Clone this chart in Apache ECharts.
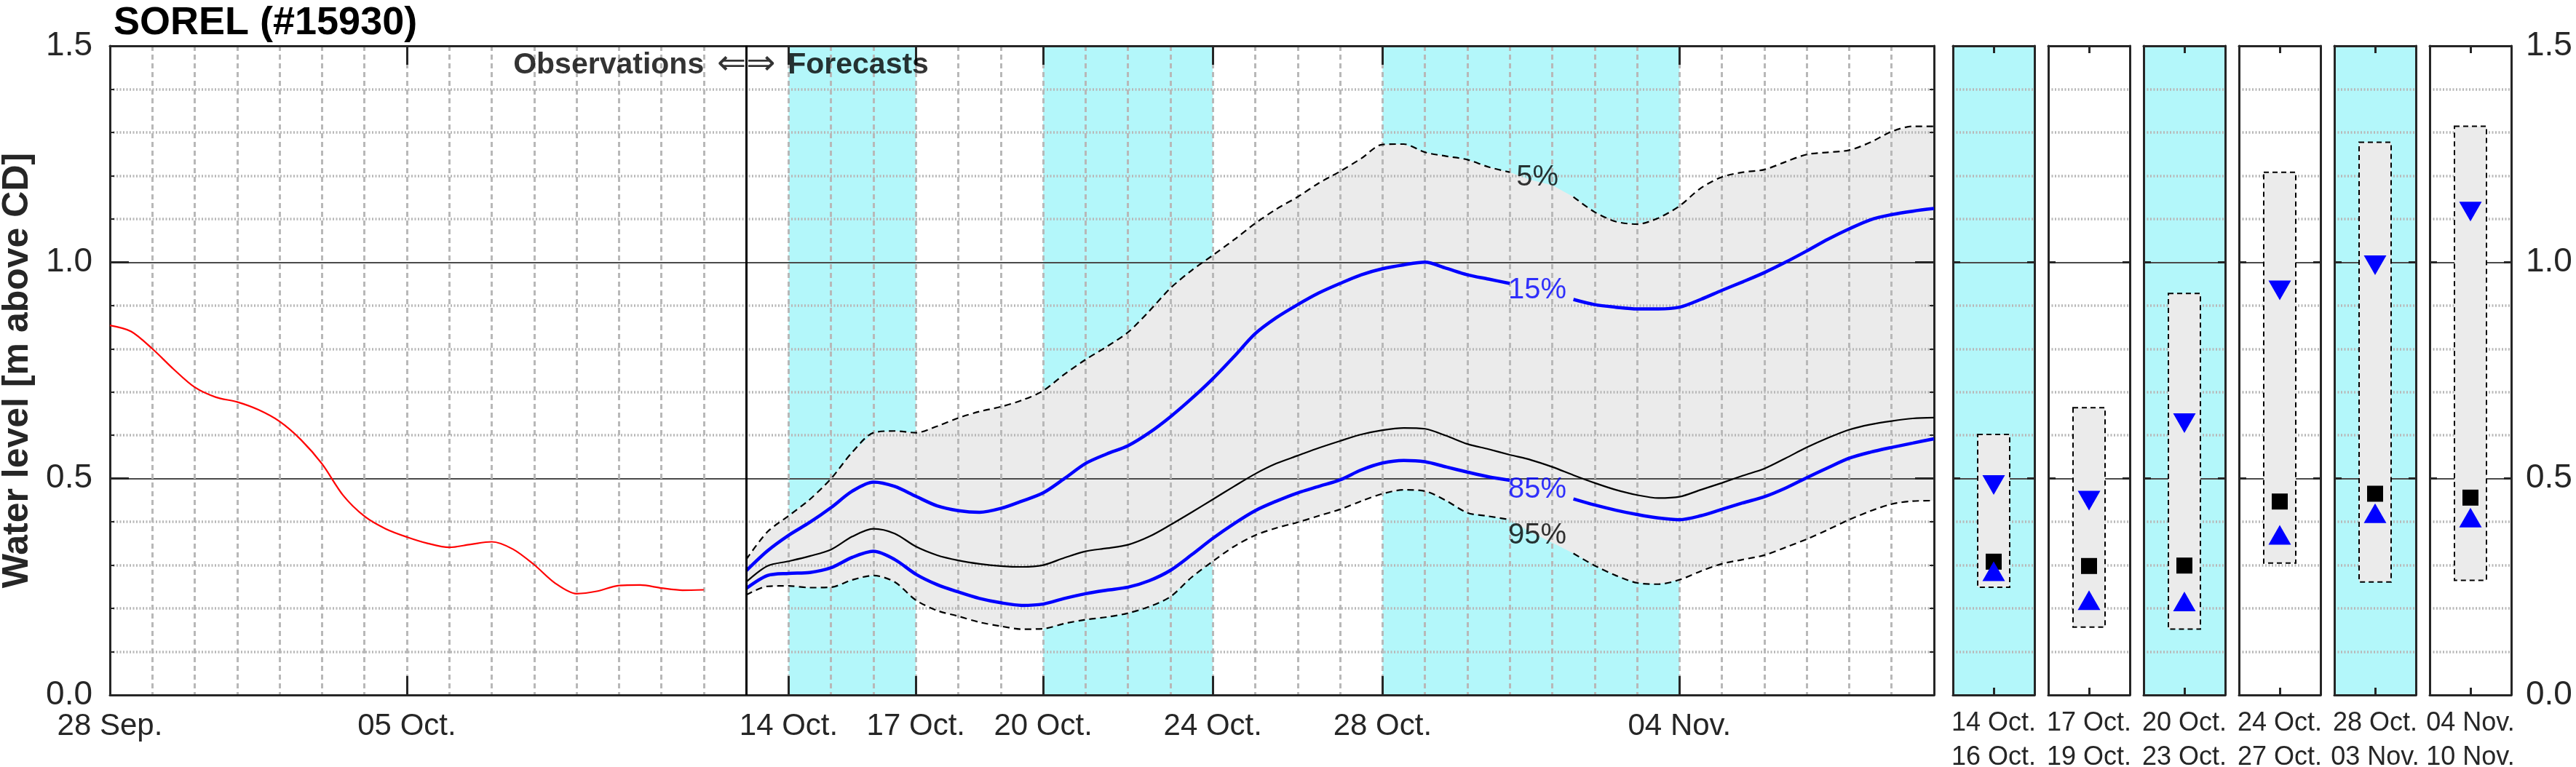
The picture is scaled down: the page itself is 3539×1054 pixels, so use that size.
<!DOCTYPE html>
<html><head><meta charset="utf-8">
<script src="https://cdn.jsdelivr.net/npm/echarts@6/dist/echarts.min.js"></script>
<style>html,body{margin:0;padding:0;background:#fff}#c{width:3539px;height:1054px}</style>
</head><body><div id="c"></div>
<script>
// ---------------- DATA ----------------
// x values are days after 28 Sep. (00:00)
const xTickDays   = [0, 7, 16, 19, 22, 26, 30, 37];
const xTickLabels = ['28 Sep.', '05 Oct.', '14 Oct.', '17 Oct.', '20 Oct.', '24 Oct.', '28 Oct.', '04 Nov.'];
const forecastStartDay = 15;           // 13 Oct.
const shadedRanges = [[16, 19], [22, 26], [30, 37]];

const obsDays  = [0,0.5,1,1.5,2,2.5,3,3.5,4,4.5,5,5.5,6,6.5,7,7.5,8,8.5,9,9.5,10,10.5,11,11.5,12,12.5,13,13.5,14];
const obsLevel = [0.854,0.840,0.800,0.753,0.711,0.688,0.677,0.659,0.632,0.590,0.534,0.461,0.413,0.384,0.365,0.350,0.341,0.348,0.354,0.337,0.301,0.258,0.234,0.240,0.253,0.254,0.247,0.242,0.243];

const fcDays = [15,15.5,16,16.5,17,17.5,18,18.5,19,19.5,20,20.5,21,21.5,22,22.5,23,23.5,24,24.5,25,25.5,26,26.5,27,27.5,28,28.5,29,29.5,30,
                30.5,31,31.5,32,32.5,33,33.5,34,34.5,35,35.5,36,36.5,37,37.5,38,38.5,39,39.5,40,40.5,41,41.5,42,42.5,43];
const p05 = [0.313,0.377,0.414,0.452,0.500,0.561,0.606,0.610,0.606,0.621,0.640,0.655,0.666,0.681,0.703,0.741,0.775,0.805,0.838,0.887,0.940,0.981,1.016,1.052,1.090,1.123,1.151,1.183,1.210,1.240,1.272,
             1.273,1.254,1.245,1.237,1.220,1.208,1.190,1.178,1.151,1.116,1.094,1.088,1.102,1.130,1.171,1.197,1.208,1.214,1.232,1.249,1.254,1.259,1.277,1.302,1.314,1.314];
const p15 = [0.287,0.333,0.369,0.399,0.433,0.471,0.492,0.482,0.459,0.437,0.426,0.422,0.431,0.448,0.467,0.500,0.535,0.557,0.576,0.606,0.643,0.685,0.731,0.782,0.835,0.872,0.902,0.929,0.951,0.971,0.985,
             0.994,1.000,0.986,0.971,0.961,0.951,0.935,0.922,0.914,0.902,0.896,0.892,0.892,0.896,0.914,0.935,0.955,0.976,1.000,1.026,1.053,1.077,1.098,1.110,1.118,1.124];
const p50 = [0.261,0.298,0.309,0.321,0.336,0.366,0.384,0.373,0.343,0.323,0.311,0.303,0.298,0.296,0.300,0.317,0.332,0.339,0.347,0.366,0.393,0.422,0.452,0.482,0.511,0.535,0.553,0.571,0.587,0.602,0.612,
             0.617,0.615,0.599,0.580,0.568,0.555,0.543,0.527,0.508,0.490,0.474,0.462,0.455,0.458,0.474,0.490,0.507,0.523,0.547,0.572,0.594,0.613,0.625,0.633,0.639,0.641];
const p85 = [0.246,0.276,0.281,0.283,0.294,0.318,0.332,0.313,0.279,0.255,0.238,0.223,0.213,0.207,0.210,0.223,0.234,0.242,0.249,0.264,0.288,0.324,0.362,0.396,0.426,0.448,0.467,0.482,0.497,0.520,0.536,
             0.542,0.539,0.527,0.515,0.504,0.496,0.480,0.466,0.453,0.439,0.427,0.417,0.409,0.405,0.414,0.429,0.444,0.458,0.478,0.502,0.525,0.547,0.561,0.572,0.582,0.592];
const p95 = [0.231,0.251,0.252,0.248,0.249,0.266,0.276,0.261,0.219,0.195,0.182,0.168,0.159,0.152,0.153,0.165,0.174,0.180,0.189,0.204,0.227,0.272,0.309,0.343,0.369,0.386,0.399,0.414,0.429,0.448,0.465,
             0.474,0.471,0.449,0.421,0.413,0.405,0.376,0.352,0.327,0.299,0.276,0.259,0.256,0.266,0.286,0.303,0.313,0.323,0.341,0.360,0.382,0.405,0.425,0.441,0.448,0.449];

const pctLabelText  = ['5%', '15%', '85%', '95%'];
const pctLabelDay   = 33.65;
const pctLabelLevel = [1.196, 0.935, 0.474, 0.368];
const labelGapDays  = [33.5, 34];

// right-hand summary panels
const panelLabels = ['14 Oct.\n16 Oct.', '17 Oct.\n19 Oct.', '20 Oct.\n23 Oct.', '24 Oct.\n27 Oct.', '28 Oct.\n03 Nov.', '04 Nov.\n10 Nov.'];
const panelP05 = [0.602, 0.664, 0.928, 1.208, 1.277, 1.314];
const panelP15 = [0.485, 0.449, 0.628, 0.935, 0.993, 1.117];
const panelP50 = [0.308, 0.298, 0.299, 0.447, 0.465, 0.456];
const panelP85 = [0.286, 0.219, 0.216, 0.370, 0.420, 0.410];
const panelP95 = [0.249, 0.157, 0.152, 0.305, 0.261, 0.265];
const panelShaded = [true, false, true, false, true, false];

// ---------------- STYLE / LAYOUT ----------------
const FONT = "'Liberation Sans', Arial, Helvetica, sans-serif";
const CYAN = '#b3f7fa', BAND = '#ebebeb', BLUE = '#0000ff', AXC = '#262626';
const GRIDC = '#b8b8b8';
const plotTop = 63, plotBottom = 99;
const mainLeft = 151, mainRight = 3539 - 2657;
const panelLeft0 = 2683, panelStep = 131, panelWidth = 112;
const SM = 0.3;
const annotLevel = 1.455;

const pairs = (xs, ys, gaps) => xs.map((x, i) => [x, (gaps && gaps.indexOf(x) >= 0) ? '-' : ys[i]]);

const axisLineStyle = {color: AXC, width: 3};
const minorGrid = {show: true, lineStyle: {color: GRIDC, width: 3.5, type: [2, 2.5]}};

const grids = [{left: mainLeft, right: mainRight, top: plotTop, bottom: plotBottom, containLabel: false, outerBoundsMode: 'none'}];
const xAxes = [
  {gridIndex: 0, type: 'value', min: 0, max: 43, interval: 1, position: 'bottom', z: 2,
   axisLine: {show: true, onZero: false, lineStyle: axisLineStyle}, axisTick: {show: false},
   axisLabel: {fontSize: 42, color: AXC, margin: 22, fontFamily: FONT,
     formatter: v => { const r = Math.round(v); const i = xTickDays.indexOf(r); return (i >= 0 && Math.abs(v - r) < 1e-6) ? xTickLabels[i] : ''; }},
   splitLine: {show: true, lineStyle: {color: GRIDC, width: 3, type: [7, 5]}}},
  {gridIndex: 0, type: 'value', min: 0, max: 43, position: 'bottom', z: 2,
   axisLine: {show: false}, axisLabel: {show: false}, splitLine: {show: false},
   axisTick: {show: true, inside: true, length: 26, customValues: xTickDays, lineStyle: axisLineStyle}},
  {gridIndex: 0, type: 'value', min: 0, max: 43, position: 'top', z: 2,
   axisLine: {show: true, onZero: false, lineStyle: axisLineStyle}, axisLabel: {show: false}, splitLine: {show: false},
   axisTick: {show: true, inside: true, length: 26, customValues: xTickDays, lineStyle: axisLineStyle}}
];
const yAxes = [
  {gridIndex: 0, type: 'value', min: 0, max: 1.5, interval: 0.5, position: 'left', z: 2,
   name: 'Water level [m above CD]', nameLocation: 'middle', nameGap: 102, nameRotate: 90,
   nameTextStyle: {fontSize: 50, fontWeight: 'bold', color: AXC, fontFamily: FONT},
   axisLine: {show: true, onZero: false, lineStyle: axisLineStyle},
   axisTick: {show: true, inside: true, length: 26, lineStyle: axisLineStyle},
   minorTick: {show: true, splitNumber: 5, length: 6, lineStyle: {color: AXC, width: 2}},
   minorSplitLine: minorGrid,
   splitLine: {show: true, lineStyle: {color: '#4a4a4a', width: 2}},
   axisLabel: {fontSize: 46, color: AXC, margin: 24, fontFamily: FONT, formatter: v => v.toFixed(1)}},
  {gridIndex: 0, type: 'value', min: 0, max: 1.5, interval: 0.5, position: 'right', z: 2,
   axisLine: {show: true, onZero: false, lineStyle: axisLineStyle},
   axisTick: {show: true, inside: true, length: 26, lineStyle: axisLineStyle},
   minorTick: {show: true, splitNumber: 5, length: 6, lineStyle: {color: AXC, width: 2}},
   splitLine: {show: false}, axisLabel: {show: false}}
];

const series = [
  {type: 'custom', name: 'shade', xAxisIndex: 0, yAxisIndex: 0, z: 0, silent: true, clip: true,
   data: shadedRanges, encode: {x: [0, 1]},
   renderItem: (params, api) => {
     const a = api.coord([api.value(0), 1.5]);
     const b = api.coord([api.value(1), 0]);
     return {type: 'rect', shape: {x: a[0], y: a[1], width: b[0] - a[0], height: b[1] - a[1]}, style: {fill: CYAN}};
   }},
  {type: 'custom', name: 'band 5%-95%', xAxisIndex: 0, yAxisIndex: 0, z: 1, silent: true, clip: true,
   data: [[fcDays[0], fcDays[fcDays.length - 1]]], encode: {x: [0, 1]},
   renderItem: (params, api) => {
     const pts = fcDays.map((d, i) => api.coord([d, p05[i]]));
     for (let i = fcDays.length - 1; i >= 0; i--) pts.push(api.coord([fcDays[i], p95[i]]));
     return {type: 'polygon', shape: {points: pts}, style: {fill: BAND}};
   }},
  {type: 'line', name: '5%', xAxisIndex: 0, yAxisIndex: 0, z: 3, data: pairs(fcDays, p05, labelGapDays),
   smooth: SM, symbol: 'none', lineStyle: {color: '#000', width: 2.2, type: [9, 6]}},
  {type: 'line', name: '95%', xAxisIndex: 0, yAxisIndex: 0, z: 3, data: pairs(fcDays, p95, labelGapDays),
   smooth: SM, symbol: 'none', lineStyle: {color: '#000', width: 2.2, type: [9, 6]}},
  {type: 'line', name: '50%', xAxisIndex: 0, yAxisIndex: 0, z: 3, data: pairs(fcDays, p50),
   smooth: SM, symbol: 'none', lineStyle: {color: '#000', width: 2.2},
   markLine: {silent: true, symbol: ['none', 'none'], label: {show: false},
     lineStyle: {color: '#000', width: 3, type: 'solid'}, data: [{xAxis: forecastStartDay}]}},
  {type: 'line', name: '15%', xAxisIndex: 0, yAxisIndex: 0, z: 4, data: pairs(fcDays, p15, labelGapDays),
   smooth: SM, symbol: 'none', lineStyle: {color: BLUE, width: 4.5}},
  {type: 'line', name: '85%', xAxisIndex: 0, yAxisIndex: 0, z: 4, data: pairs(fcDays, p85, labelGapDays),
   smooth: SM, symbol: 'none', lineStyle: {color: BLUE, width: 4.5}},
  {type: 'line', name: 'obs', xAxisIndex: 0, yAxisIndex: 0, z: 4, data: pairs(obsDays, obsLevel),
   smooth: SM, symbol: 'none', lineStyle: {color: '#ff0000', width: 2.2}},
  {type: 'scatter', name: 'pctLabels', xAxisIndex: 0, yAxisIndex: 0, z: 5, silent: true, symbolSize: 0,
   data: pctLabelText.map((t, i) => ({value: [pctLabelDay, pctLabelLevel[i]],
     label: {show: true, position: 'inside', formatter: t, fontSize: 40, fontFamily: FONT,
       color: (i === 0 || i === 3) ? '#000' : BLUE}}))},
  {type: 'scatter', name: 'annot', xAxisIndex: 0, yAxisIndex: 0, z: 5, silent: true, symbolSize: 0,
   data: [
     {value: [forecastStartDay, annotLevel], label: {show: true, position: 'left', distance: 58, formatter: 'Observations',
       fontSize: 41, fontWeight: 'bold', color: '#000', fontFamily: FONT}},
     {value: [forecastStartDay, annotLevel], label: {show: true, position: 'inside', formatter: '\u21D0\u21D2',
       fontSize: 48, color: '#000', fontFamily: "'DejaVu Sans', sans-serif"}},
     {value: [forecastStartDay, annotLevel], label: {show: true, position: 'right', distance: 57, formatter: 'Forecasts',
       fontSize: 41, fontWeight: 'bold', color: '#000', fontFamily: FONT}}
   ]}
];

panelLabels.forEach((lab, i) => {
  const g = i + 1;
  grids.push({left: panelLeft0 + i * panelStep, width: panelWidth, top: plotTop, bottom: plotBottom,
              containLabel: false, outerBoundsMode: 'none',
              show: true, borderWidth: 0, backgroundColor: panelShaded[i] ? CYAN : 'rgba(0,0,0,0)'});
  const tick = {show: true, inside: true, length: 10, alignWithLabel: true, lineStyle: axisLineStyle};
  xAxes.push({gridIndex: g, type: 'category', data: [lab], position: 'bottom', z: 2,
    axisLine: {show: true, onZero: false, lineStyle: axisLineStyle}, axisTick: tick,
    axisLabel: {fontSize: 36, lineHeight: 47, color: AXC, margin: 16, fontFamily: FONT, interval: 0},
    splitLine: {show: false}});
  xAxes.push({gridIndex: g, type: 'category', data: [lab], position: 'top', z: 2,
    axisLine: {show: true, onZero: false, lineStyle: axisLineStyle}, axisTick: tick,
    axisLabel: {show: false}, splitLine: {show: false}});
  const ytick = {show: true, inside: true, length: 10, lineStyle: axisLineStyle};
  yAxes.push({gridIndex: g, type: 'value', min: 0, max: 1.5, interval: 0.5, position: 'left', z: 1,
    axisLine: {show: true, onZero: false, lineStyle: axisLineStyle}, axisTick: ytick,
    minorTick: {show: false, splitNumber: 5}, minorSplitLine: minorGrid,
    splitLine: {show: true, lineStyle: {color: '#4a4a4a', width: 2}}, axisLabel: {show: false}});
  yAxes.push({gridIndex: g, type: 'value', min: 0, max: 1.5, interval: 0.5, position: 'right', z: 1,
    axisLine: {show: true, onZero: false, lineStyle: axisLineStyle}, axisTick: ytick,
    splitLine: {show: false},
    axisLabel: {show: i === panelLabels.length - 1, fontSize: 46, color: AXC, margin: 20, fontFamily: FONT,
                formatter: v => v.toFixed(1)}});
  const xi = 3 + 2 * i, yi = 2 + 2 * i;
  series.push({type: 'custom', name: 'box' + i, xAxisIndex: xi, yAxisIndex: yi, z: 3, silent: true,
    data: [[0, panelP95[i], panelP05[i]]], encode: {x: 0, y: [1, 2]},
    renderItem: (params, api) => {
      const t = api.coord([api.value(0), api.value(2)]);
      const b = api.coord([api.value(0), api.value(1)]);
      return {type: 'rect', shape: {x: t[0] - 22, y: t[1], width: 44, height: b[1] - t[1]},
              style: {fill: BAND, stroke: '#000', lineWidth: 2, lineDash: [7, 5]}};
    }});
  series.push({type: 'scatter', name: 'p15_' + i, xAxisIndex: xi, yAxisIndex: yi, z: 4, silent: true,
    data: [[0, panelP15[i]]], symbol: 'triangle', symbolRotate: 180, symbolSize: [31, 27], itemStyle: {color: BLUE, opacity: 1}});
  series.push({type: 'scatter', name: 'p50_' + i, xAxisIndex: xi, yAxisIndex: yi, z: 4, silent: true,
    data: [[0, panelP50[i]]], symbol: 'rect', symbolSize: [22, 22], itemStyle: {color: '#000', opacity: 1}});
  series.push({type: 'scatter', name: 'p85_' + i, xAxisIndex: xi, yAxisIndex: yi, z: 4, silent: true,
    data: [[0, panelP85[i]]], symbol: 'triangle', symbolSize: [31, 27], itemStyle: {color: BLUE, opacity: 1}});
});

const chart = echarts.init(document.getElementById('c'), null, {renderer: 'canvas'});
chart.setOption({
  animation: false,
  backgroundColor: '#fff',
  textStyle: {fontFamily: FONT},
  title: {text: 'SOREL (#15930)', left: mainLeft, top: 0,
          textStyle: {fontSize: 54, fontWeight: 'bold', color: '#000', fontFamily: FONT}},
  grid: grids, xAxis: xAxes, yAxis: yAxes, series: series
});
</script></body></html>
